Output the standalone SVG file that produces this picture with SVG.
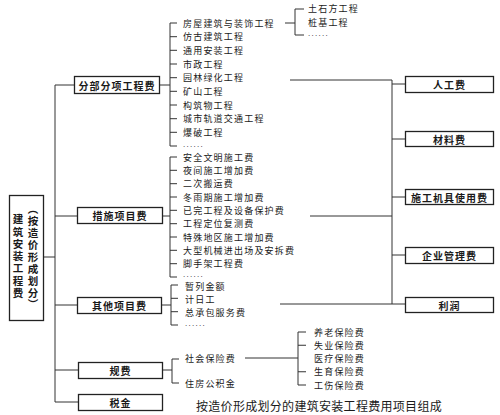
<svg xmlns="http://www.w3.org/2000/svg" width="500" height="415" viewBox="0 0 500 415">
<style>
text{font-family:"Noto Sans CJK SC","Noto Sans",sans-serif;fill:#1a1a1a;dominant-baseline:central}
.it{font-size:9px;letter-spacing:1.2px}
.el{font-family:"Liberation Sans",sans-serif;font-size:8px;letter-spacing:1.3px}
.bx{fill:#fff;stroke:#222;stroke-width:1.3}
.bt{font-size:10px;font-weight:bold;letter-spacing:1px;text-anchor:middle}
.vt{font-size:10.5px;font-weight:bold;writing-mode:vertical-rl;dominant-baseline:auto}
.cap{font-size:12px;letter-spacing:0.3px}
#connectors path{fill:none;stroke:#333;stroke-width:1}
</style>
<rect width="500" height="415" fill="#fff"/>
<g id="connectors">
<path d="M43 257H55M55 85V402"/>
<path d="M55 85H74M55 216H77M55 305H77M55 370H78M55 402H78"/>
<path d="M159 85H170M177 23H170V146H177M170 36.7H177M170 50.3H177M170 64H177M170 77.7H177M170 91.3H177M170 105H177M170 118.7H177M170 132.3H177"/>
<path d="M285 23H295M304 9H295V35H304"/>
<path d="M162 216H170M177 157H170V277H177M170 170.3H177M170 183.7H177M170 197H177M170 210.3H177M170 223.7H177M170 237H177M170 250.3H177M170 263.7H177"/>
<path d="M161 305H171M178 285H171V325H178M171 298.3H178M171 311.7H178"/>
<path d="M162 370H172M179 359H172V383H179"/>
<path d="M245 358H298M306 332H298V385H306M298 345.25H306M298 371.75H306"/>
<path d="M290 80H392V304M310 216H392M280 304H392"/>
<path d="M392 84H405M392 139H405M392 197H405M392 255H405M392 304H405"/>
</g>
<g id="root">
<rect class="bx" x="9.5" y="195.5" width="34" height="125"/>
<text class="vt" x="18" y="214" style="letter-spacing:1.8px">建筑安装工程费</text>
<text class="vt" x="33" y="204" style="letter-spacing:1.4px">（按造价形成划分）</text>
</g>
<g id="fbfx"><rect class="bx" x="74.5" y="76.5" width="85" height="17"/><text class="bt" x="117" y="85">分部分项工程费</text></g>
<g id="csxm"><rect class="bx" x="77.5" y="207.5" width="85" height="16"/><text class="bt" x="120" y="215.5">措施项目费</text></g>
<g id="qtxm"><rect class="bx" x="77.5" y="297.5" width="84" height="16"/><text class="bt" x="119.5" y="305.5">其他项目费</text></g>
<g id="gf"><rect class="bx" x="78.5" y="362.5" width="84" height="16"/><text class="bt" x="120.5" y="370.5">规费</text></g>
<g id="sj"><rect class="bx" x="78.5" y="394.5" width="84" height="16"/><text class="bt" x="120.5" y="402.5">税金</text></g>
<g id="rgf"><rect class="bx" x="405.5" y="76.5" width="88" height="16"/><text class="bt" x="449.5" y="84.5">人工费</text></g>
<g id="clf"><rect class="bx" x="405.5" y="131.5" width="88" height="15"/><text class="bt" x="449.5" y="139">材料费</text></g>
<g id="jjf"><rect class="bx" x="405.5" y="189.5" width="88" height="15"/><text class="bt" x="449.5" y="197">施工机具使用费</text></g>
<g id="glf"><rect class="bx" x="405.5" y="247.5" width="88" height="16"/><text class="bt" x="449.5" y="255.5">企业管理费</text></g>
<g id="lr"><rect class="bx" x="405.5" y="297.5" width="88" height="15"/><text class="bt" x="449.5" y="305">利润</text></g>
<g id="fbfx-items">
<text class="it" x="183" y="23">房屋建筑与装饰工程</text>
<text class="it" x="183" y="36.7">仿古建筑工程</text>
<text class="it" x="183" y="50.3">通用安装工程</text>
<text class="it" x="183" y="64">市政工程</text>
<text class="it" x="183" y="77.7">园林绿化工程</text>
<text class="it" x="183" y="91.3">矿山工程</text>
<text class="it" x="183" y="105">构筑物工程</text>
<text class="it" x="183" y="118.7">城市轨道交通工程</text>
<text class="it" x="183" y="132.3">爆破工程</text>
<text class="el" x="183" y="144">......</text>
</g>
<g id="fjzs-items">
<text class="it" x="308" y="8.5">土石方工程</text>
<text class="it" x="308" y="22">桩基工程</text>
<text class="el" x="308" y="33">......</text>
</g>
<g id="csxm-items">
<text class="it" x="183" y="157">安全文明施工费</text>
<text class="it" x="183" y="170.3">夜间施工增加费</text>
<text class="it" x="183" y="183.7">二次搬运费</text>
<text class="it" x="183" y="197">冬雨期施工增加费</text>
<text class="it" x="183" y="210.3">已完工程及设备保护费</text>
<text class="it" x="183" y="223.7">工程定位复测费</text>
<text class="it" x="183" y="237">特殊地区施工增加费</text>
<text class="it" x="183" y="250.3">大型机械进出场及安拆费</text>
<text class="it" x="183" y="263.7">脚手架工程费</text>
<text class="el" x="183" y="274.5">......</text>
</g>
<g id="qtxm-items">
<text class="it" x="185" y="286.5">暂列金额</text>
<text class="it" x="185" y="299.3">计日工</text>
<text class="it" x="185" y="312.5">总承包服务费</text>
<text class="el" x="185" y="323">......</text>
</g>
<g id="gf-items">
<text class="it" x="185" y="358">社会保险费</text>
<text class="it" x="185" y="383">住房公积金</text>
</g>
<g id="sb-items">
<text class="it" x="314" y="332">养老保险费</text>
<text class="it" x="314" y="345.25">失业保险费</text>
<text class="it" x="314" y="358.5">医疗保险费</text>
<text class="it" x="314" y="371.75">生育保险费</text>
<text class="it" x="314" y="385">工伤保险费</text>
</g>
<g id="caption"><text class="cap" x="196" y="405">按造价形成划分的建筑安装工程费用项目组成</text></g>
</svg>
